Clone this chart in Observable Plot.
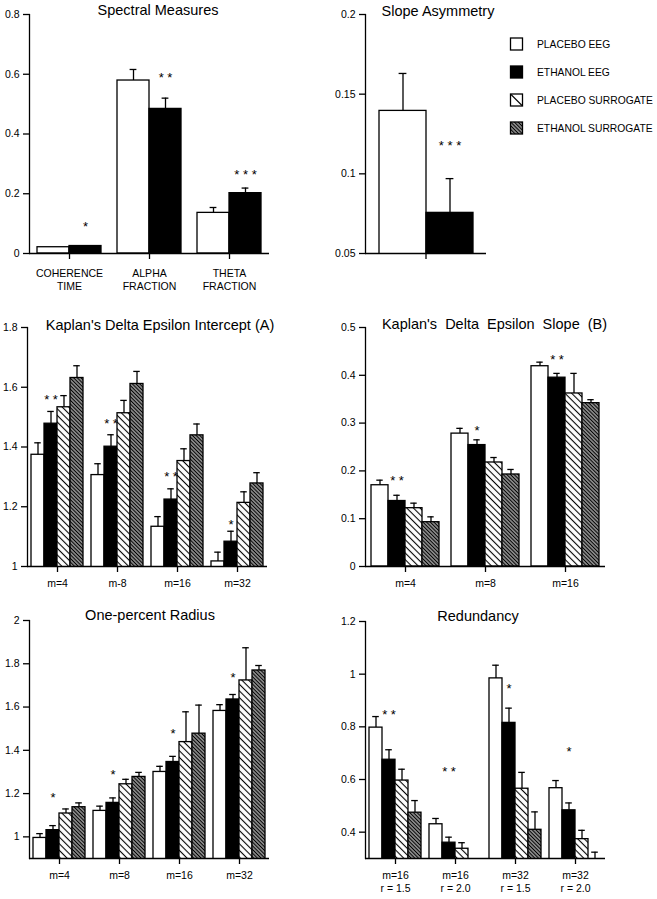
<!DOCTYPE html>
<html><head><meta charset="utf-8">
<script src="https://cdn.jsdelivr.net/npm/d3@7"></script>
<script src="https://cdn.jsdelivr.net/npm/@observablehq/plot@0.6"></script>
<style>
body{margin:0;background:#fff;}
#wrap{position:relative;width:657px;height:899px;background:#fff;font-family:"Liberation Sans",Arial,Helvetica,sans-serif;color:#000;overflow:hidden;}
.panel{position:absolute;}
.title{position:absolute;font-size:14.5px;line-height:1;white-space:nowrap;transform:translateX(-50%);}
</style></head><body>
<div id="wrap"></div>
<script>
// ---------- DATA ----------
const series = ["PLACEBO EEG", "ETHANOL EEG", "PLACEBO SURROGATE", "ETHANOL SURROGATE"];

// Spectral Measures
const spectralGroups = ["COHERENCE\nTIME", "ALPHA\nFRACTION", "THETA\nFRACTION"];
const spectralPlaceboEEG = [0.021, 0.579, 0.136];
const spectralEthanolEEG = [0.025, 0.484, 0.202];
const spectralPlaceboEEGErr = [null, 0.616, 0.154];
const spectralEthanolEEGErr = [null, 0.52, 0.219];
const spectralStars = ["*", "**", "***"];
const spectralStarY = [0.1, 0.6, 0.275];
const spectralTicks = [0, 0.2, 0.4, 0.6, 0.8];

// Slope Asymmetry
const slopeGroups = ["slope"];
const slopePlaceboEEG = [0.1395];
const slopeEthanolEEG = [0.0755];
const slopePlaceboEEGErr = [0.163];
const slopeEthanolEEGErr = [0.097];
const slopeStars = ["***"];
const slopeStarY = [0.12];
const slopeTicks = [0.05, 0.1, 0.15, 0.2];

// Kaplan's Delta Epsilon Intercept (A)
const interceptGroups = ["m=4", "m-8", "m=16", "m=32"];
const interceptPlaceboEEG = [1.374, 1.306, 1.133, 1.017];
const interceptEthanolEEG = [1.478, 1.401, 1.224, 1.083];
const interceptPlaceboSurr = [1.533, 1.513, 1.353, 1.213];
const interceptEthanolSurr = [1.631, 1.611, 1.439, 1.278];
const interceptPlaceboEEGErr = [1.414, 1.344, 1.167, 1.048];
const interceptEthanolEEGErr = [1.519, 1.441, 1.26, 1.118];
const interceptPlaceboSurrErr = [1.572, 1.556, 1.394, 1.25];
const interceptEthanolSurrErr = [1.672, 1.653, 1.477, 1.314];
const interceptStars = ["**", "**", "**", "*"];
const interceptStarY = [1.57, 1.489, 1.313, 1.15];
const interceptTicks = [1, 1.2, 1.4, 1.6, 1.8];

// Kaplan's Delta Epsilon Slope (B)
const kslopeGroups = ["m=4", "m=8", "m=16"];
const kslopePlaceboEEG = [0.17, 0.278, 0.419];
const kslopeEthanolEEG = [0.137, 0.254, 0.395];
const kslopePlaceboSurr = [0.122, 0.2176, 0.362];
const kslopeEthanolSurr = [0.0927, 0.1925, 0.3417];
const kslopePlaceboEEGErr = [0.1806, 0.289, 0.4275];
const kslopeEthanolEEGErr = [0.149, 0.265, 0.404];
const kslopePlaceboSurrErr = [0.1325, 0.228, 0.404];
const kslopeEthanolSurrErr = [0.1039, 0.203, 0.349];
const kslopeStars = ["**", "*", "**"];
const kslopeStarY = [0.186, 0.291, 0.4407];
const kslopeTicks = [0, 0.1, 0.2, 0.3, 0.4, 0.5];

// One-percent Radius
const radiusGroups = ["m=4", "m=8", "m=16", "m=32"];
const radiusPlaceboEEG = [0.995, 1.12, 1.3, 1.582];
const radiusEthanolEEG = [1.031, 1.157, 1.346, 1.635];
const radiusPlaceboSurr = [1.108, 1.243, 1.438, 1.723];
const radiusEthanolSurr = [1.137, 1.277, 1.477, 1.769];
const radiusPlaceboEEGErr = [1.015, 1.142, 1.326, 1.611];
const radiusEthanolEEGErr = [1.052, 1.18, 1.372, 1.658];
const radiusPlaceboSurrErr = [1.129, 1.266, 1.578, 1.874];
const radiusEthanolSurrErr = [1.157, 1.298, 1.609, 1.792];
const radiusStars = ["*", "*", "*", "*"];
const radiusStarY = [1.197, 1.303, 1.492, 1.75];
const radiusTicks = [1, 1.2, 1.4, 1.6, 1.8, 2];

// Redundancy
const redundancyGroups = ["m=16\nr = 1.5", "m=16\nr = 2.0", "m=32\nr = 1.5", "m=32\nr = 2.0"];
const redundancyPlaceboEEG = [0.797, 0.43, 0.984, 0.567];
const redundancyEthanolEEG = [0.675, 0.36, 0.815, 0.483];
const redundancyPlaceboSurr = [0.596, 0.337, 0.565, 0.3735];
const redundancyEthanolSurr = [0.474, null, 0.409, 0.29];
const redundancyPlaceboEEGErr = [0.839, 0.452, 1.034, 0.596];
const redundancyEthanolEEGErr = [0.713, 0.381, 0.871, 0.511];
const redundancyPlaceboSurrErr = [0.639, 0.36, 0.627, 0.407];
const redundancyEthanolSurrErr = [0.52, null, 0.477, 0.324];
const redundancyStars = ["**", "**", "*", "*"];
const redundancyStarY = [0.858, 0.643, 0.958, 0.719];
const redundancyTicks = [0.4, 0.6, 0.8, 1, 1.2];

// ---------- RENDER ----------
const wrap = document.getElementById("wrap");
const FONT = '"Liberation Sans", Arial, Helvetica, sans-serif';
const fills = ["white", "black", "url(#hatchPlacebo)", "url(#hatchEthanol)"];

// pattern definitions
wrap.insertAdjacentHTML("beforeend", `
<svg width="0" height="0" style="position:absolute">
  <defs>
    <pattern id="hatchPlacebo" patternUnits="userSpaceOnUse" width="4.7" height="10" patternTransform="rotate(-45)">
      <rect width="4.7" height="10" fill="white"/>
      <line x1="2.35" y1="0" x2="2.35" y2="10" stroke="black" stroke-width="1.1"/>
    </pattern>
    <pattern id="hatchEthanol" patternUnits="userSpaceOnUse" width="2.6" height="10" patternTransform="rotate(-45)">
      <rect width="2.6" height="10" fill="white"/>
      <line x1="1.3" y1="0" x2="1.3" y2="10" stroke="black" stroke-width="1.7"/>
    </pattern>
  </defs>
</svg>`);

function buildRows(groups, values, errs) {
  const rows = [];
  groups.forEach((g, gi) => {
    values.forEach((vals, si) => {
      rows.push({group: g, series: series[si], value: vals[gi], err: errs[si][gi]});
    });
  });
  return rows;
}

function panel(cfg) {
  const data = buildRows(cfg.groups, cfg.values, cfg.errs);
  const starRows = cfg.groups.map((g, i) => ({group: g, series: series[1], label: cfg.stars[i], y: cfg.starY[i]}));
  const xDomain = series.slice(0, cfg.values.length);
  const lw = 1.3;
  const chart = Plot.plot({
    width: cfg.width, height: cfg.height,
    marginTop: cfg.m[0], marginRight: cfg.m[1], marginBottom: cfg.m[2], marginLeft: cfg.m[3],
    style: {fontFamily: FONT, fontSize: "10.5px", color: "black", background: "transparent", overflow: "visible"},
    fx: {domain: cfg.groups, padding: 0},
    x: {domain: xDomain, paddingInner: 0, paddingOuter: cfg.pad, axis: null},
    y: {domain: cfg.domain, axis: null},
    color: {domain: series, range: fills},
    marks: [
      Plot.barY(data, {fx: "group", x: "series", y: "value", fill: "series", stroke: "black", strokeWidth: lw, clip: true}),
      Plot.ruleX(data, {fx: "group", x: "series", y1: "value", y2: "err", stroke: "black", strokeWidth: lw, clip: true}),
      Plot.tickY(data, {fx: "group", x: "series", y: "err", stroke: "black", strokeWidth: lw, insetLeft: cfg.cap, insetRight: cfg.cap, clip: true}),
      Plot.ruleY([cfg.domain[0]], {stroke: "black", strokeWidth: lw}),
      Plot.frame({anchor: "left", facetAnchor: "left", stroke: "black", strokeWidth: lw}),
      Plot.axisY({anchor: "left", ticks: cfg.ticks, tickFormat: d => String(d), tickSize: 6, tickPadding: 4,
        strokeWidth: lw, fontSize: 10.5, label: null}),
      Plot.text(starRows, {fx: "group", x: "series", y: "y", text: d => d.label.split("").join(" "), fontSize: 13, dy: 3.5}),
      Plot.axisFx({anchor: "bottom", tickSize: 6, tickPadding: cfg.fxPad, strokeWidth: lw, fontSize: 10.5, lineHeight: 1.27, label: null,
        tickFormat: cfg.hideLabels ? () => "" : d => d})
    ]
  });
  chart.classList.add("panel");
  chart.style.left = cfg.left + "px";
  chart.style.top = cfg.top + "px";
  wrap.appendChild(chart);
}

panel({groups: spectralGroups, values: [spectralPlaceboEEG, spectralEthanolEEG], errs: [spectralPlaceboEEGErr, spectralEthanolEEGErr],
  stars: spectralStars, starY: spectralStarY, domain: [0, 0.8], ticks: spectralTicks,
  left: 0, top: 0, width: 330, height: 295, m: [14, 61, 42, 29], pad: 0.238, cap: 12.6, fxPad: 8});

panel({groups: slopeGroups, values: [slopePlaceboEEG, slopeEthanolEEG], errs: [slopePlaceboEEGErr, slopeEthanolEEGErr],
  stars: slopeStars, starY: slopeStarY, domain: [0.05, 0.2], ticks: slopeTicks, hideLabels: true,
  left: 330, top: 0, width: 327, height: 295, m: [14, 171, 42, 35], pad: 0.279, cap: 19.6, fxPad: 8});

panel({groups: interceptGroups,
  values: [interceptPlaceboEEG, interceptEthanolEEG, interceptPlaceboSurr, interceptEthanolSurr],
  errs: [interceptPlaceboEEGErr, interceptEthanolEEGErr, interceptPlaceboSurrErr, interceptEthanolSurrErr],
  stars: interceptStars, starY: interceptStarY, domain: [1, 1.8], ticks: interceptTicks,
  left: 0, top: 295, width: 330, height: 300, m: [32, 63, 29, 27], pad: 0.222, cap: 3.25, fxPad: 5});

panel({groups: kslopeGroups,
  values: [kslopePlaceboEEG, kslopeEthanolEEG, kslopePlaceboSurr, kslopeEthanolSurr],
  errs: [kslopePlaceboEEGErr, kslopeEthanolEEGErr, kslopePlaceboSurrErr, kslopeEthanolSurrErr],
  stars: kslopeStars, starY: kslopeStarY, domain: [0, 0.5], ticks: kslopeTicks,
  left: 330, top: 295, width: 327, height: 300, m: [32, 52, 29, 35], pad: 0.273, cap: 5.3, fxPad: 5});

panel({groups: radiusGroups,
  values: [radiusPlaceboEEG, radiusEthanolEEG, radiusPlaceboSurr, radiusEthanolSurr],
  errs: [radiusPlaceboEEGErr, radiusEthanolEEGErr, radiusPlaceboSurrErr, radiusEthanolSurrErr],
  stars: radiusStars, starY: radiusStarY, domain: [0.9, 2], ticks: radiusTicks,
  left: 0, top: 595, width: 330, height: 304, m: [25, 61, 41, 29], pad: 0.24, cap: 3.2, fxPad: 5});

panel({groups: redundancyGroups,
  values: [redundancyPlaceboEEG, redundancyEthanolEEG, redundancyPlaceboSurr, redundancyEthanolSurr],
  errs: [redundancyPlaceboEEGErr, redundancyEthanolEEGErr, redundancyPlaceboSurrErr, redundancyEthanolSurrErr],
  stars: redundancyStars, starY: redundancyStarY, domain: [0.3, 1.2], ticks: redundancyTicks,
  left: 330, top: 595, width: 327, height: 304, m: [26, 52, 41, 35], pad: 0.24, cap: 3.2, fxPad: 5});

// titles
const titles = [
  {text: "Spectral Measures", cx: 158, top: 3},
  {text: "Slope Asymmetry", cx: 438, top: 3.5},
  {text: "Kaplan's Delta Epsilon Intercept (A)", cx: 160, top: 317.5},
  {text: "Kaplan's Delta Epsilon Slope (B)", cx: 494.5, top: 317, ws: 4},
  {text: "One-percent Radius", cx: 150, top: 608},
  {text: "Redundancy", cx: 478, top: 608.7}
];
titles.forEach(t => {
  const d = document.createElement("div");
  d.className = "title";
  d.textContent = t.text;
  d.style.left = t.cx + "px";
  d.style.top = t.top + "px";
  if (t.ws) d.style.wordSpacing = t.ws + "px";
  wrap.appendChild(d);
});

// legend
const leg = d3.select(wrap).append("svg")
  .style("position", "absolute").style("left", "505px").style("top", "30px")
  .attr("width", 150).attr("height", 115)
  .style("font-family", FONT);
series.forEach((s, i) => {
  const cy = 14 + i * 28;
  const g = leg.append("g");
  g.append("rect").attr("x", 5.5).attr("y", cy - 6).attr("width", 12).attr("height", 12)
    .attr("fill", i === 2 ? "white" : fills[i]).attr("stroke", "black").attr("stroke-width", 1.3);
  if (i === 2) g.append("line").attr("x1", 6).attr("y1", cy - 5.5).attr("x2", 17).attr("y2", cy + 5.5)
    .attr("stroke", "black").attr("stroke-width", 1.1);
  g.append("text").attr("x", 32).attr("y", cy + 3.6).attr("font-size", 10.3).text(s);
});
</script>
</body></html>
